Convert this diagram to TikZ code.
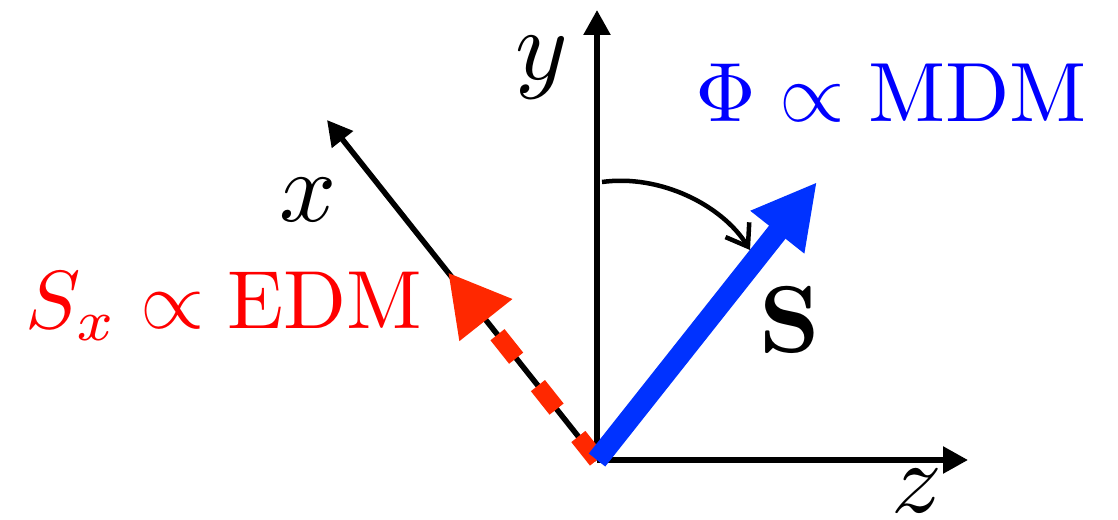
\documentclass[tikz,border=0pt]{standalone}
\usepackage{amsmath}
\usetikzlibrary{arrows.meta,calc}
\definecolor{txtred}{RGB}{255,0,0}
\definecolor{txtblue}{RGB}{0,0,255}
\definecolor{arrred}{RGB}{255,40,0}
\definecolor{arrblue}{RGB}{0,50,255}
\tikzset{
  axisline/.style={line width=5.5pt,-{Triangle[length=25pt,width=26pt]}},
  axislabel/.style={inner sep=0pt,font=\normalsize,scale=10},
  biglabel/.style={inner sep=0pt,font=\normalsize,scale=8.25},
  edmarrow/.style={arrred,line width=18pt,dash pattern=on 30pt off 35pt,-{Triangle[length=61pt,width=63pt]}},
  mdmarrow/.style={arrblue,line width=21pt,-{Triangle[length=64pt,width=64pt]}},
  rotarrow/.style={line width=4.5pt,-{Straight Barb[length=20pt,width=28pt]}}
}
\begin{document}
\begin{tikzpicture}[x=1pt,y=-1pt]
\useasboundingbox (0,0) rectangle (1118,519);
\coordinate (O) at (597,460);
\coordinate (yt) at (597,10);
\coordinate (zt) at (968,460);
\coordinate (xt) at (327,120);
\coordinate (st) at (817,182);
\coordinate (ex) at ($(O)!0.552!(xt)$);
\coordinate (ra) at (602,182);
\coordinate (rb) at (750,250);
\draw[axisline] (O) -- (yt);
\draw[axisline] (O) -- (zt);
\draw[axisline] (O) -- (xt);
\draw[edmarrow] (O) -- (ex);
\draw[mdmarrow] (O) -- (st);
\draw[rotarrow] (ra) .. controls (660,174) and (722,205) .. (rb);
\node[axislabel] (ly) at (542,68) {$y$};
\node[axislabel] (lx) at (308,200) {$x$};
\node[axislabel] (lz) at (917,491) {$z$};
\node[axislabel,scale=0.95] (ls) at (790,320) {$\mathbf{S}$};
\node[biglabel,txtred,anchor=base west] (edm) at (24,328) {$S_x\propto\mathrm{EDM}$};
\node[biglabel,txtblue,anchor=base west,scale=1.02] (mdm) at (694,121) {$\Phi\propto\mathrm{MDM}$};
\end{tikzpicture}
\end{document}
